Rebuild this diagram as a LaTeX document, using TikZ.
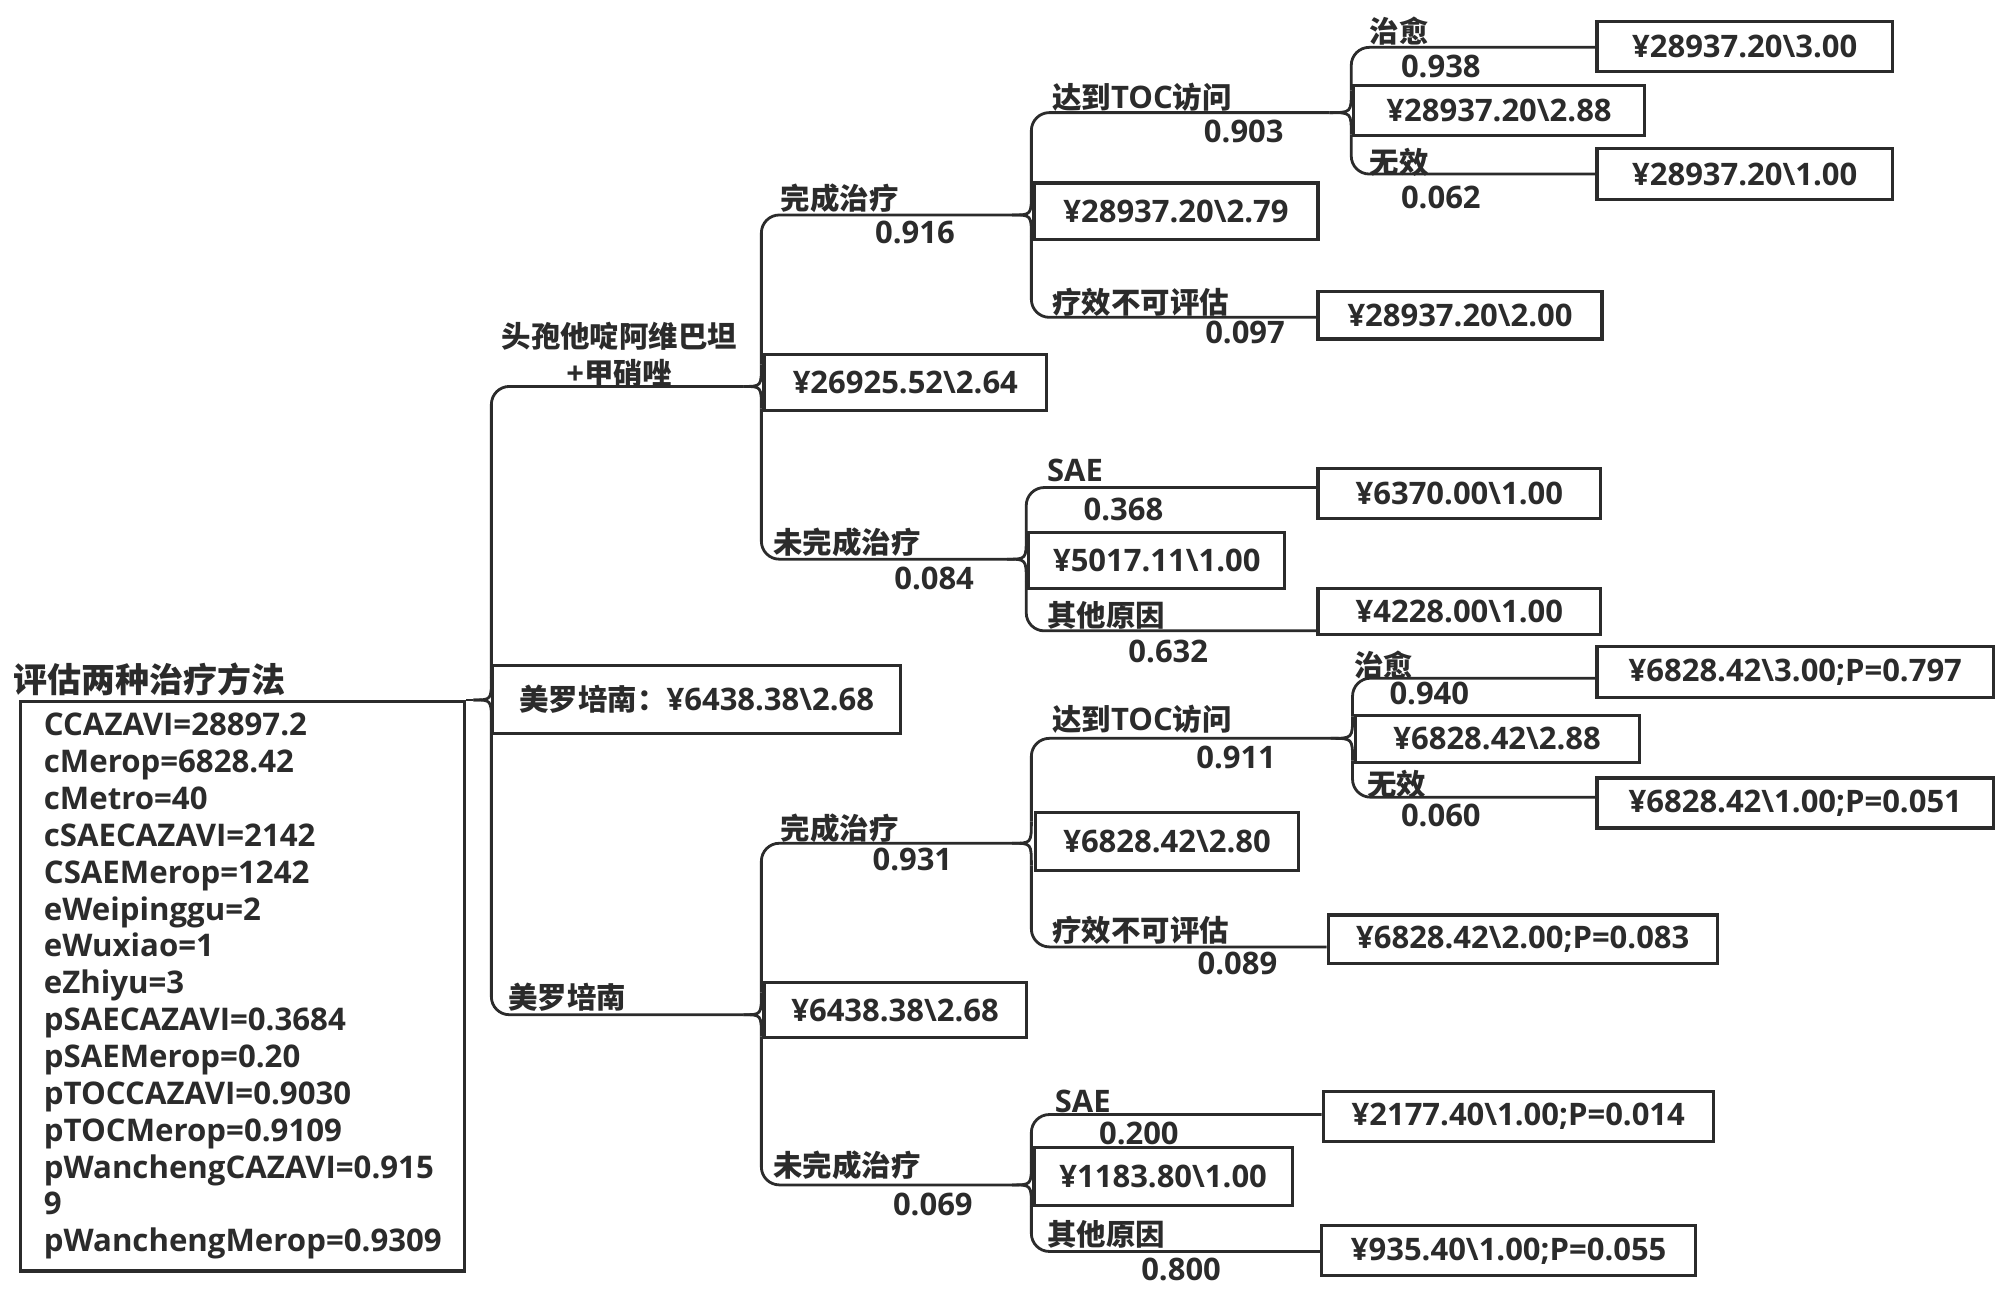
\documentclass[tikz,border=0pt]{standalone}
\usepackage{fontspec}
\setmainfont{Open Sans}
\newfontfamily\cjk{Noto Sans CJK SC}[Scale=0.95]
\usetikzlibrary{calc}
\definecolor{ink}{HTML}{2B2B2B}
\tikzset{
  ln/.style={draw=ink, line width=1.4pt},
  rc/.style={ln, rounded corners=9pt},
  fnt/.style={font=\bfseries\fontsize{15.5}{18.6}\selectfont, text=ink},
  vb/.style={fnt, draw=ink, line width=1.6pt, inner sep=0pt},
  lbl/.style={fnt, anchor=west, inner sep=0pt},
  prb/.style={fnt, inner sep=0pt}
}
\newcommand\valbox[6]{\node[vb, minimum width={(#4-#2)*0.64pt}, minimum height={(#5-#3)*0.64pt}] (#1) at ({(#2+#4)/2},{(#3+#5)/2}) {#6};}
\newcommand\fork[4]{%
  \path (#1) ++(#2,0) coordinate (#1v);
  \draw[ln] (#1) .. controls (#1v) .. ([yshift=11pt]#1v);
  \draw[rc] ([yshift=11pt]#1v) |- (#3);
  \draw[ln] (#1) .. controls (#1v) .. ([yshift=-11pt]#1v);
  \draw[rc] ([yshift=-11pt]#1v) |- (#4);
}
\newcommand\bs{\textbackslash}
\begin{document}
\begin{tikzpicture}[x=0.64pt,y=-0.64pt]
\fill[white] (0,0) rectangle (1563,1012);
\useasboundingbox (0,0) rectangle (1563,1012);

% root
\node[anchor=west, inner sep=0pt, text=ink, font=\cjk\bfseries\fontsize{17.9}{20}\selectfont] (title) at (10,531) {评估两种治疗方法};
\node[draw=ink, line width=1.6pt, anchor=north west, minimum width=222.1pt, minimum height=284.8pt,
      text width=199pt, align=left, inner xsep=11.52pt, inner ysep=0pt, text=ink,
      font=\bfseries\fontsize{15.6}{18.43}\selectfont] (root) at (15,547) {%
CCAZAVI=28897.2\\
cMerop=6828.42\\
cMetro=40\\
cSAECAZAVI=2142\\
CSAEMerop=1242\\
eWeipinggu=2\\
eWuxiao=1\\
eZhiyu=3\\
pSAECAZAVI=0.3684\\
pSAEMerop=0.20\\
pTOCCAZAVI=0.9030\\
pTOCMerop=0.9109\\
pWanchengCAZAVI=0.915\\
9\\
pWanchengMerop=0.9309};

% value boxes
\valbox{b264}{597}{277}{818}{321}{¥26925.52\bs 2.64}
\valbox{b279}{808}{143}{1030}{187}{¥28937.20\bs 2.79}
\valbox{b200}{1030}{228}{1252}{265}{¥28937.20\bs 2.00}
\valbox{b300}{1248}{17}{1479}{56}{¥28937.20\bs 3.00}
\valbox{b288}{1058}{67}{1285}{106}{¥28937.20\bs 2.88}
\valbox{b100}{1248}{116}{1479}{156}{¥28937.20\bs 1.00}
\valbox{b6370}{1030}{366}{1251}{405}{¥6370.00\bs 1.00}
\valbox{b5017}{804}{416}{1004}{460}{¥5017.11\bs 1.00}
\valbox{b4228}{1030}{460}{1251}{496}{¥4228.00\bs 1.00}
\valbox{mroot}{385}{520}{704}{573}{{\cjk 美罗培南：}¥6438.38\bs 2.68}
\valbox{b268}{597}{768}{802}{811}{¥6438.38\bs 2.68}
\valbox{m280}{809}{635}{1015}{680}{¥6828.42\bs 2.80}
\valbox{m200}{1038}{715}{1342}{753}{¥6828.42\bs 2.00;P=0.083}
\valbox{m300}{1248}{505}{1558}{545}{¥6828.42\bs 3.00;P=0.797}
\valbox{m288}{1059}{559}{1281}{596}{¥6828.42\bs 2.88}
\valbox{m100}{1248}{608}{1558}{647}{¥6828.42\bs 1.00;P=0.051}
\valbox{m2177}{1034}{853}{1339}{892}{¥2177.40\bs 1.00;P=0.014}
\valbox{m118}{808}{897}{1010}{942}{¥1183.80\bs 1.00}
\valbox{m935}{1033}{958}{1325}{997}{¥935.40\bs 1.00;P=0.055}

% junctions
\coordinate (J0) at (370,547);
\coordinate (J1) at (581,302);
\coordinate (J2) at (581,793);
\coordinate (J3) at (791,168);
\coordinate (J4) at (787,437);
\coordinate (J5) at (1039,88);
\coordinate (J6) at (791,659);
\coordinate (J7) at (791,926);
\coordinate (J8) at (1040,577);

\draw[ln] (root.north east) -- (J0);
\fork{J0}{14}{J1}{J2}
\fork{J1}{14}{J3}{J4}
\fork{J3}{15}{J5}{b200.west |- 0,248}
\fork{J5}{17}{b300.west |- 0,37}{b100.west |- 0,136}
\fork{J4}{15}{b6370.west |- 0,381}{b4228.west |- 0,493}
\fork{J2}{14}{J6}{J7}
\fork{J6}{15}{J8}{m200.west |- 0,740}
\fork{J8}{17}{m300.west |- 0,530}{m100.west |- 0,623}
\fork{J7}{15}{m2177.west |- 0,871}{m935.west |- 0,978}

% labels
\node[fnt, align=center, inner sep=0pt] (lcaz) at (484,277) {{\cjk 头孢他啶阿维巴坦}\\+{\cjk 甲硝唑}};
\node[lbl] (lmer) at (397,779) {\cjk 美罗培南};

\node[lbl] (l1) at (610,155) {\cjk 完成治疗};
\node[prb] (p1) at (715,182) {0.916};
\node[lbl] (l2) at (604,424) {\cjk 未完成治疗};
\node[prb] (p2) at (730,452) {0.084};
\node[lbl] (l3) at (822,76) {{\cjk 达到}TOC{\cjk 访问}};
\node[prb] (p3) at (972,103) {0.903};
\node[lbl] (l4) at (822,236) {\cjk 疗效不可评估};
\node[prb] (p4) at (973,260) {0.097};
\node[lbl] (l5) at (1070,24) {\cjk 治愈};
\node[prb] (p5) at (1126,52) {0.938};
\node[lbl] (l6) at (1070,127) {\cjk 无效};
\node[prb] (p6) at (1126,154) {0.062};
\node[lbl] (l7) at (818,368) {SAE};
\node[prb] (p7) at (878,398) {0.368};
\node[lbl] (l8) at (818,481) {\cjk 其他原因};
\node[prb] (p8) at (913,509) {0.632};

\node[lbl] (m1) at (610,647) {\cjk 完成治疗};
\node[prb] (q1) at (713,672) {0.931};
\node[lbl] (m2) at (604,911) {\cjk 未完成治疗};
\node[prb] (q2) at (729,941) {0.069};
\node[lbl] (m3) at (822,562) {{\cjk 达到}TOC{\cjk 访问}};
\node[prb] (q3) at (966,592) {0.911};
\node[lbl] (m4) at (822,727) {\cjk 疗效不可评估};
\node[prb] (q4) at (967,753) {0.089};
\node[lbl] (m5) at (1058,520) {\cjk 治愈};
\node[prb] (q5) at (1117,542) {0.940};
\node[lbl] (m6) at (1068,613) {\cjk 无效};
\node[prb] (q6) at (1126,637) {0.060};
\node[lbl] (m7) at (824,861) {SAE};
\node[prb] (q7) at (890,886) {0.200};
\node[lbl] (m8) at (818,965) {\cjk 其他原因};
\node[prb] (q8) at (923,992) {0.800};
\end{tikzpicture}
\end{document}
